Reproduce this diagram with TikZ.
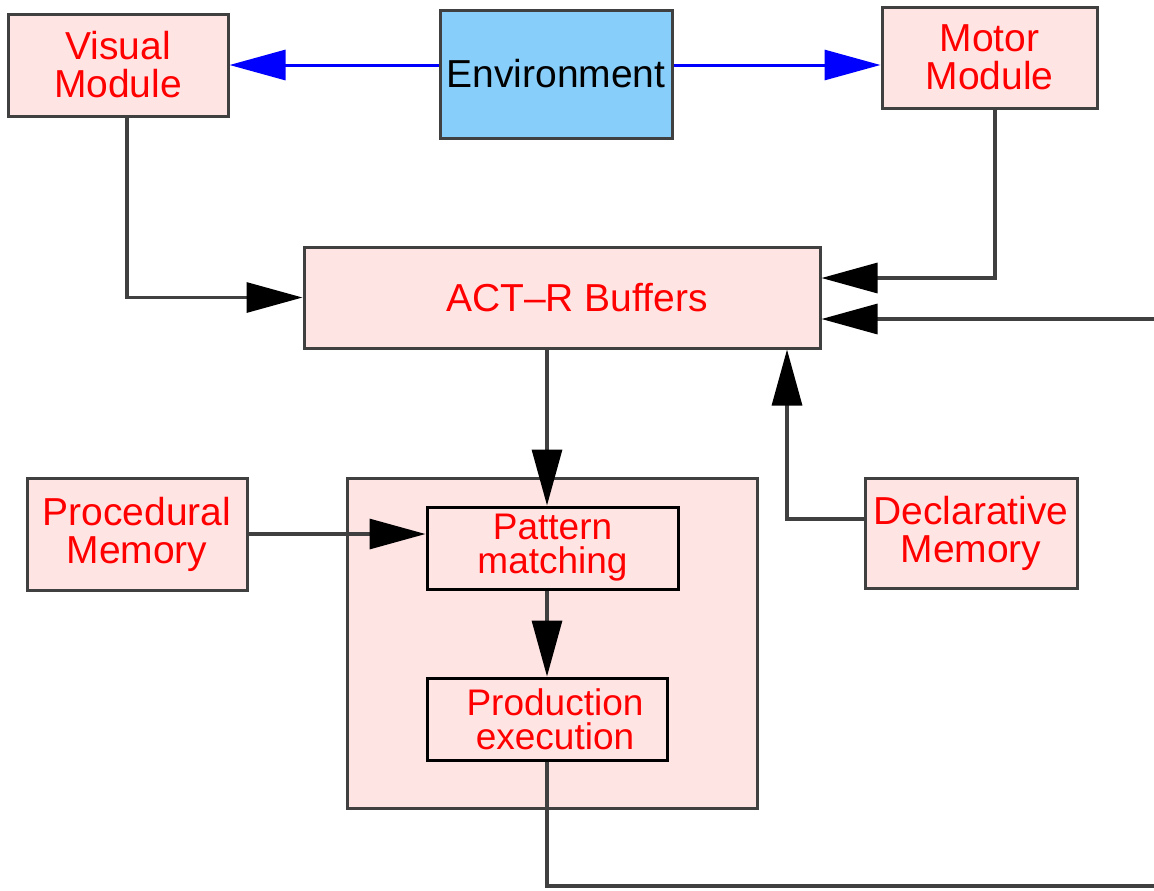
\documentclass[tikz,border=0pt]{standalone}
\usepackage{fontspec}
\setmainfont{Liberation Sans}
\usepackage{xcolor}
\usetikzlibrary{arrows.meta,calc}
\definecolor{pinkfill}{HTML}{FFE4E4}
\definecolor{envblue}{HTML}{87CEFA}
\definecolor{edgegray}{HTML}{404040}
\tikzset{
  modbox/.style={draw=edgegray,line width=1.5pt,fill=pinkfill,text=red,align=center,inner sep=0pt,
    font=\fontsize{19.5}{19}\selectfont},
  envbox/.style={modbox,fill=envblue,text=black},
  subbox/.style={modbox,draw=black,font=\fontsize{18.5}{17}\selectfont},
  link/.style={-{Triangle[length=28pt,width=15pt,black]},draw=edgegray,line width=1.6pt},
  envlink/.style={->,draw=blue,fill=blue,line width=1.5pt}
}
\begin{document}
\begin{tikzpicture}[line join=miter,>={Triangle[length=28pt,width=15pt]},x=0.5pt,y=-0.5pt]
                \useasboundingbox (0,0) rectangle (1154,890);
                % modules along the top
                \node[modbox,minimum width=110pt,minimum height=51pt] (vis) at (118,65) {Visual\\Module};
                \node[envbox,minimum width=116pt,minimum height=64pt] (env) at (556,74) {Environment};
                \node[modbox,minimum width=107.5pt,minimum height=50.5pt] (mot) at (989.5,57.5) {Motor\\Module};
                \node[modbox,minimum width=258pt,minimum height=50.5pt] (act) at (562,297.5) {\hspace*{15pt}ACT--R Buffers};
                % memories and the production system
                \node[modbox,minimum width=110pt,minimum height=56pt] (proc) at (137,534) {Procedural\\Memory};
                \node[modbox,minimum width=205pt,minimum height=165pt] (core) at (552,643) {};
                \node[subbox,minimum width=125.5pt,minimum height=41pt] (pat) at (552.5,548) {Pattern\\matching};
                \node[subbox,minimum width=120pt,minimum height=41pt] (prod) at (547,719) {\hspace*{8pt}Production\\\hspace*{8pt}execution};
                \node[modbox,minimum width=106pt,minimum height=55pt] (decl) at (971,533) {Declarative\\Memory};
                \coordinate (rin) at (1154,319);
                \coordinate (rout) at (1154,886);
                % connectors
                \draw[envlink] (vis.east -| env.west) -- (vis.east);
                \draw[envlink] (vis.east -| env.east) -- (vis.east -| mot.west);
                \draw[link] ([xshift=4.5pt]vis.south) |- (act.west);
                \draw[link] ([xshift=2.75pt]mot.south) |- ([yshift=9.75pt]act.east);
                \draw[link] (rin) -- (rin -| act.east);
                \draw[link] ([yshift=7pt]decl.west) -| ([xshift=112.5pt]act.south);
                \draw[link] (prod.north |- act.south) -- (prod.north |- pat.north);
                \draw[link] (proc.east) -- (proc.east -| pat.west);
                \draw[link] (prod.north |- pat.south) -- (prod.north);
                \draw[link,-] (prod.south) |- (rout);
            \end{tikzpicture}
\end{document}
